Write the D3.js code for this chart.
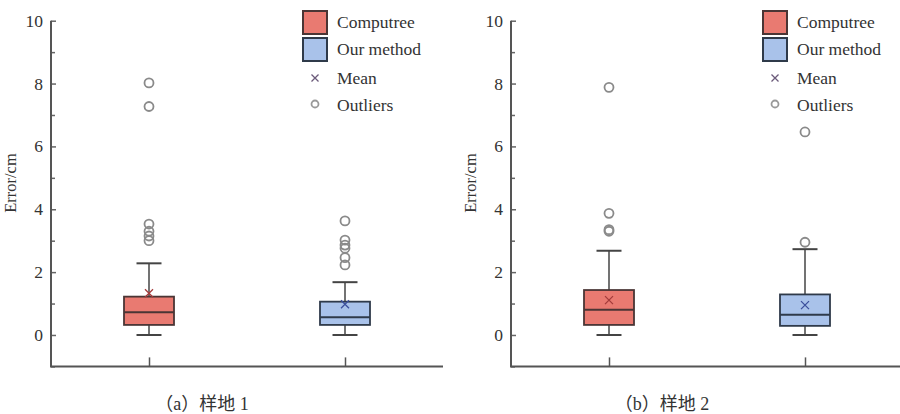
<!DOCTYPE html>
<html>
<head>
<meta charset="utf-8">
<script src="https://cdn.jsdelivr.net/npm/d3@7/dist/d3.min.js"></script>
<style>
  body { margin: 0; background: #fff; }
  text { font-family: "Liberation Serif", "DejaVu Serif", serif; fill: #333; }
</style>
</head>
<body>
<div id="chart"></div>
<script>
// data
var methods = ["Computree", "Our method"];
var panels = ["（a）样地 1", "（b）样地 2"];
var yTicks = [0, 2, 4, 6, 8, 10];
var yMinor = [-1, 1, 3, 5, 7, 9];

// [plot1, plot2] per method: min, q1, median, q3, max, mean
var compMin = [0, 0], compQ1 = [0.32, 0.32], compMed = [0.72, 0.80], compQ3 = [1.22, 1.43], compMax = [2.28, 2.68], compMean = [1.33, 1.11];
var oursMin = [0, 0], oursQ1 = [0.32, 0.29], oursMed = [0.56, 0.64], oursQ3 = [1.06, 1.29], oursMax = [1.68, 2.73], oursMean = [0.98, 0.95];
var compOut = [[8.02, 7.27, 3.53, 3.30, 3.15, 3.00], [7.88, 3.87, 3.35, 3.30]];
var oursOut = [[3.63, 3.02, 2.86, 2.76, 2.46, 2.23], [6.46, 2.95]];

var fills = {"Computree": "#e97a71", "Our method": "#a9c2ea"};
var strokes = {"Computree": "#4a3535", "Our method": "#2f3a4a"};
var meanCol = {"Computree": "#a33b3b", "Our method": "#3b4f9c"};

var W = 900, H = 414;
var svg = d3.select("#chart").append("svg").attr("width", W).attr("height", H);

var y = d3.scaleLinear().domain([-1, 10]).range([366.4, 20.7]);

function drawPanel(p, x0) {
  var g = svg.append("g").attr("transform", "translate(" + x0 + ",0)");
  var x = d3.scalePoint().domain(methods).range([0, 392]).padding(0.5);

  var stats = [
    {m: "Computree", min: compMin[p], q1: compQ1[p], med: compMed[p], q3: compQ3[p], max: compMax[p], mean: compMean[p], out: compOut[p]},
    {m: "Our method", min: oursMin[p], q1: oursQ1[p], med: oursMed[p], q3: oursQ3[p], max: oursMax[p], mean: oursMean[p], out: oursOut[p]}
  ];

  // axes
  var yAxis = d3.axisRight(y).tickValues(yTicks).tickSize(5).tickFormat("");
  g.append("g").attr("class", "y axis").call(yAxis);
  g.append("g").call(d3.axisRight(y).tickValues(yMinor).tickSize(4).tickFormat(""));
  g.selectAll(".tl").data(yTicks).enter().append("text")
    .attr("x", -8).attr("y", function(d) { return y(d) + 6; })
    .attr("text-anchor", "end").style("font-size", "17.5px")
    .text(function(d) { return d; });
  g.selectAll(".domain").remove();
  g.selectAll(".tick line").attr("stroke", "#666").attr("stroke-width", 1.5);

  g.append("path")
    .attr("d", "M0," + y(10) + "V" + y(-1) + "H392")
    .attr("fill", "none").attr("stroke", "#555").attr("stroke-width", 2);

  var xAxis = d3.axisTop(x).tickSize(9).tickFormat("");
  var xg = g.append("g").attr("transform", "translate(0," + y(-1) + ")").call(xAxis);
  xg.select(".domain").remove();
  xg.selectAll(".tick line").attr("stroke", "#555").attr("stroke-width", 1.5);

  g.append("text")
    .attr("transform", "translate(-35," + 183 + ") rotate(-90)")
    .attr("text-anchor", "middle").style("font-size", "16.5px")
    .text("Error/cm");

  // boxes
  var bw = 50, cw = 25;
  var box = g.selectAll(".box").data(stats).enter().append("g").attr("class", "box");
  box.append("line")
    .attr("x1", function(d) { return x(d.m); }).attr("x2", function(d) { return x(d.m); })
    .attr("y1", function(d) { return y(d.min); }).attr("y2", function(d) { return y(d.max); })
    .attr("stroke", "#444").attr("stroke-width", 1.5);
  box.selectAll(".cap").data(function(d) { return [[d.m, d.min], [d.m, d.max]]; }).enter().append("line")
    .attr("x1", function(d) { return x(d[0]) - cw / 2; }).attr("x2", function(d) { return x(d[0]) + cw / 2; })
    .attr("y1", function(d) { return y(d[1]); }).attr("y2", function(d) { return y(d[1]); })
    .attr("stroke", "#444").attr("stroke-width", 2);
  box.append("rect")
    .attr("x", function(d) { return x(d.m) - bw / 2; }).attr("width", bw)
    .attr("y", function(d) { return y(d.q3); })
    .attr("height", function(d) { return y(d.q1) - y(d.q3); })
    .attr("fill", function(d) { return fills[d.m]; })
    .attr("stroke", function(d) { return strokes[d.m]; }).attr("stroke-width", 1.8);
  box.append("line")
    .attr("x1", function(d) { return x(d.m) - bw / 2; }).attr("x2", function(d) { return x(d.m) + bw / 2; })
    .attr("y1", function(d) { return y(d.med); }).attr("y2", function(d) { return y(d.med); })
    .attr("stroke", function(d) { return strokes[d.m]; }).attr("stroke-width", 2);
  box.append("path")
    .attr("transform", function(d) { return "translate(" + x(d.m) + "," + y(d.mean) + ")"; })
    .attr("d", "M-4,-4L4,4M-4,4L4,-4")
    .attr("stroke", function(d) { return meanCol[d.m]; }).attr("stroke-width", 1.3);
  box.selectAll(".out").data(function(d) { return d.out.map(function(v) { return [d.m, v]; }); })
    .enter().append("circle")
    .attr("cx", function(d) { return x(d[0]); }).attr("cy", function(d) { return y(d[1]); })
    .attr("r", 4.5).attr("fill", "none").attr("stroke", "#8a8a8a").attr("stroke-width", 1.8);

  // legend
  var lg = g.append("g").attr("transform", "translate(252,0)");
  methods.forEach(function(m, i) {
    lg.append("rect").attr("x", 0).attr("y", 11 + i * 27).attr("width", 24).attr("height", 23)
      .attr("fill", fills[m]).attr("stroke", strokes[m]).attr("stroke-width", 2);
    lg.append("text").attr("x", 34).attr("y", 28 + i * 27).style("font-size", "17.5px").text(m);
  });
  lg.append("path").attr("transform", "translate(12,78)")
    .attr("d", "M-3.5,-3.5L3.5,3.5M-3.5,3.5L3.5,-3.5")
    .attr("stroke", "#6b5a7a").attr("stroke-width", 1.3);
  lg.append("text").attr("x", 34).attr("y", 84).style("font-size", "17.5px").text("Mean");
  lg.append("circle").attr("cx", 12).attr("cy", 104).attr("r", 3.5)
    .attr("fill", "none").attr("stroke", "#999").attr("stroke-width", 1.8);
  lg.append("text").attr("x", 34).attr("y", 111).style("font-size", "17.5px").text("Outliers");

  // caption
  g.append("text").attr("x", 151).attr("y", 410)
    .attr("text-anchor", "middle").style("font-size", "18px")
    .style("font-family", "'Liberation Serif', 'Noto Sans CJK SC', serif")
    .text(panels[p]);
}

drawPanel(0, 51);
drawPanel(1, 511);
</script>
</body>
</html>
